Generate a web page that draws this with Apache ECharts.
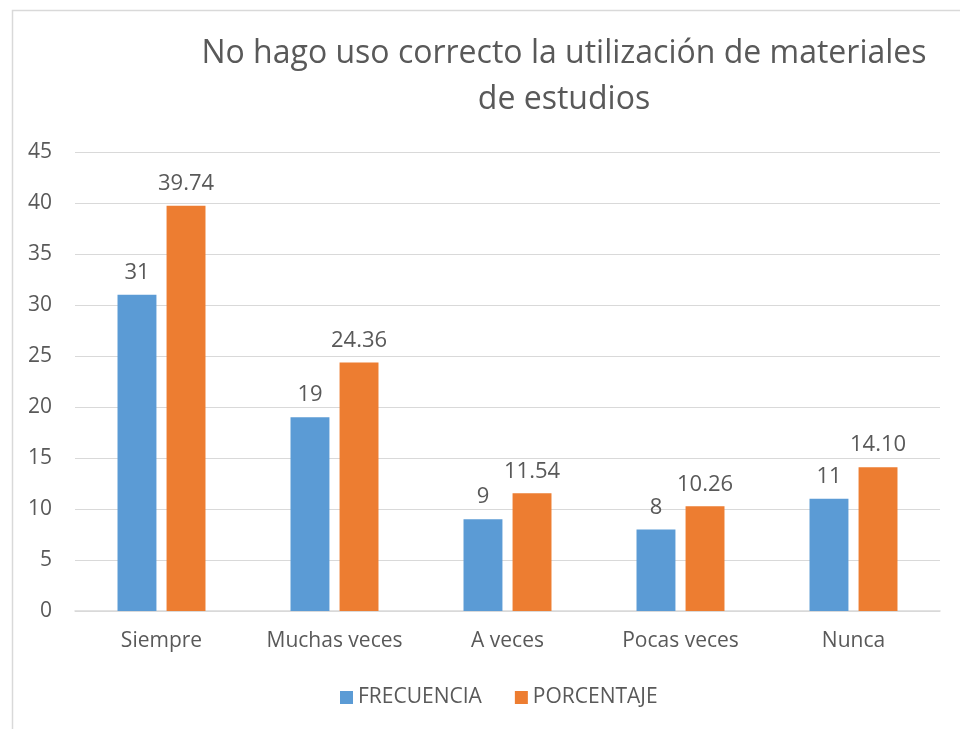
<!DOCTYPE html>
<html>
<head>
<meta charset="utf-8">
<style>
  html, body { margin: 0; padding: 0; background: #fff; }
  #chart { width: 960px; height: 729px; }
</style>
<script src="https://cdn.jsdelivr.net/npm/echarts@6/dist/echarts.min.js"></script>
</head>
<body>
<div id="chart"></div>
<script>
const titleText = 'No hago uso correcto la utilización de materiales\nde estudios';
const categories = ['Siempre', 'Muchas veces', 'A veces', 'Pocas veces', 'Nunca'];
const frecuencia = [31, 19, 9, 8, 11];
const porcentaje = [39.74, 24.36, 11.54, 10.26, 14.10];
const seriesNames = ['FRECUENCIA', 'PORCENTAJE'];

const FONT = '"Open Sans", "Liberation Sans", sans-serif';
const TXT = '#595959';

const chart = echarts.init(document.getElementById('chart'), null, { renderer: 'canvas' });
chart.setOption({
  backgroundColor: '#ffffff',
  animation: false,
  graphic: [{
    type: 'rect',
    left: 10, top: 8,
    shape: { width: 1000, height: 800 },
    style: { fill: 'none', stroke: '#D9D9D9', lineWidth: 1.5 },
    silent: true
  }],
  title: {
    text: titleText,
    left: 559,
    textAlign: 'center',
    top: 26,
    textStyle: { fontFamily: FONT, fontWeight: 400, fontSize: 32, color: TXT, lineHeight: 46 }
  },
  legend: {
    data: seriesNames,
    left: 335,
    top: 682,
    itemWidth: 13,
    itemHeight: 13,
    itemGap: 33,
    icon: 'rect',
    textStyle: { fontFamily: FONT, fontSize: 21, color: TXT }
  },
  grid: { left: 75, right: 20, top: 152, bottom: 118, containLabel: false },
  xAxis: {
    type: 'category',
    data: categories,
    axisLine: { lineStyle: { color: '#D9D9D9', width: 1.5 } },
    axisTick: { show: false },
    axisLabel: { interval: 0, fontFamily: FONT, fontSize: 21, color: TXT, margin: 20 }
  },
  yAxis: {
    type: 'value',
    min: 0, max: 45, interval: 5,
    axisLine: { show: false },
    axisTick: { show: false },
    splitLine: { lineStyle: { color: '#D9D9D9', width: 1.2 } },
    axisLabel: { fontFamily: FONT, fontSize: 21, color: TXT, margin: 23 }
  },
  series: [
    {
      name: seriesNames[0],
      type: 'bar',
      data: frecuencia,
      barWidth: '22.5%',
      barGap: '26%',
      itemStyle: { color: '#5B9BD5' },
      label: { show: true, position: 'top', distance: 11, fontFamily: FONT, fontSize: 22, color: TXT,
        formatter: p => String(p.value) }
    },
    {
      name: seriesNames[1],
      type: 'bar',
      data: porcentaje,
      barWidth: '22.5%',
      itemStyle: { color: '#ED7D31' },
      label: { show: true, position: 'top', distance: 11, fontFamily: FONT, fontSize: 22, color: TXT,
        formatter: p => p.value.toFixed(2) }
    }
  ]
});
</script>
</body>
</html>
